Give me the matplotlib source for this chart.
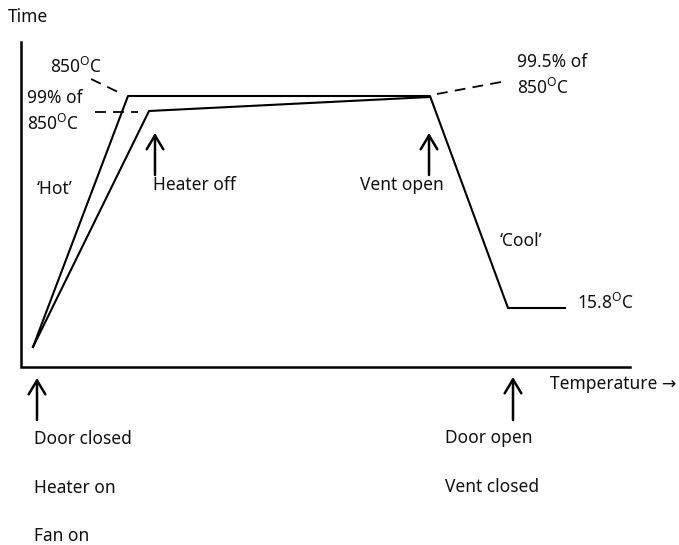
import matplotlib.pyplot as plt

plt.rcParams['font.family'] = ['Noto Sans', 'DejaVu Sans']
plt.rcParams['mathtext.fontset'] = 'custom'
plt.rcParams['mathtext.rm'] = 'Noto Sans'

# positions on the sketch (pixel units, y grows downwards)
axis_x = [21, 21, 630]
axis_y = [42, 367, 367]

outer_x = [33, 128, 430, 508, 565]
outer_y = [347, 96, 96, 308, 308]
inner_x = [33, 149, 430]
inner_y = [347, 111, 97]

dash_lines = [([91, 120], [79, 93]),
              ([95, 138], [112, 112]),
              ([437, 501], [94, 82])]

arrows = [(155, 175, 133), (429, 175, 133), (37, 420, 378), (513, 420, 377)]

labels = [
    (8, 17, "Time"),
    (50, 67, "850$^{\\mathregular{O}}$C"),
    (27, 98, "99% of"),
    (27, 124, "850$^{\\mathregular{O}}$C"),
    (37, 189, "\u2018Hot\u2019"),
    (153, 185, "Heater off"),
    (360, 185, "Vent open"),
    (517, 62, "99.5% of"),
    (517, 88, "850$^{\\mathregular{O}}$C"),
    (500, 241, "\u2018Cool\u2019"),
    (577, 303, "15.8$^{\\mathregular{O}}$C"),
    (550, 384, "Temperature \u2192"),
    (34, 439, "Door closed"),
    (34, 488, "Heater on"),
    (34, 536, "Fan on"),
    (445, 438, "Door open"),
    (445, 487, "Vent closed"),
]

fig = plt.figure(figsize=(6.79, 5.45), dpi=100)
ax = fig.add_axes([0, 0, 1, 1])
ax.set_xlim(0, 679)
ax.set_ylim(545, 0)
ax.axis('off')

ax.plot(axis_x, axis_y, color='black', lw=1.8, solid_joinstyle='miter')
ax.plot(outer_x, outer_y, color='black', lw=1.5)
ax.plot(inner_x, inner_y, color='black', lw=1.5)
for xs, ys in dash_lines:
    ax.plot(xs, ys, color='black', lw=1.3, dashes=(6, 4))

for x, y0, y1 in arrows:
    ax.annotate('', xy=(x, y1), xytext=(x, y0),
                arrowprops=dict(arrowstyle='->,head_width=0.6,head_length=1.0',
                                color='black', lw=1.8, shrinkA=0, shrinkB=0))

for x, y, s in labels:
    ax.text(x, y, s, fontsize=12.5, ha='left', va='center', color='#111111')

fig.savefig('out.png', dpi=100)
